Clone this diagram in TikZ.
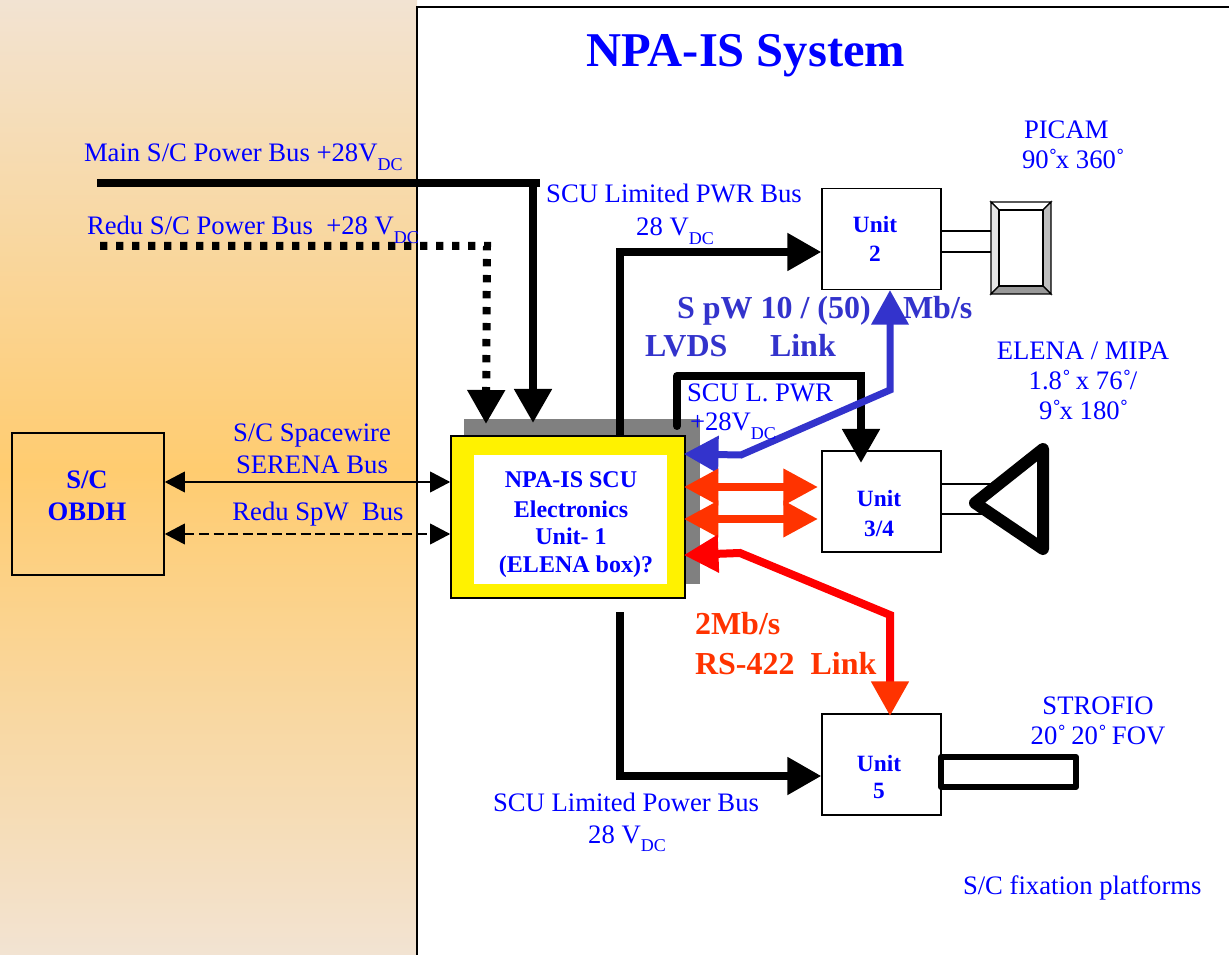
\documentclass[tikz,border=0pt]{standalone}
\usepackage{fontspec}
\setmainfont{Liberation Serif}
\usetikzlibrary{arrows.meta,calc}
\definecolor{scublue}{HTML}{0000FF}
\definecolor{linkblue}{HTML}{3333CC}
\definecolor{linkorange}{HTML}{FF3300}
\definecolor{bgend}{HTML}{F2E3D2}
\definecolor{bgmid}{HTML}{FFCC70}
\newcommand{\dcsub}{\raisebox{-0.32em}{\fontsize{13.5pt}{14pt}\selectfont DC}}
\newcommand{\degr}{˚\kern-.06em}
\tikzset{
  x=0.75pt,y=-0.75pt,
  lbl/.style={inner sep=0pt,outer sep=0pt,text=scublue,anchor=base,font=\fontsize{20pt}{24pt}\selectfont},
  lblw/.style={lbl,anchor=base west},
  unitlbl/.style={lbl,font=\fontsize{17.5pt}{21pt}\selectfont\bfseries},
  scutext/.style={lbl,font=\fontsize{18pt}{21pt}\selectfont\bfseries},
  obdhlbl/.style={lbl,font=\fontsize{20pt}{24pt}\selectfont\bfseries},
  linkb/.style={lblw,text=linkblue,font=\fontsize{24pt}{28pt}\selectfont\bfseries},
  linkr/.style={lblw,text=linkorange,font=\fontsize{24pt}{28pt}\selectfont\bfseries},
  unitbox/.style={draw=black,line width=1.2pt,fill=white,minimum width=89pt,minimum height=75.5pt,inner sep=0pt},
  bighead/.style={-{Triangle[length=25.5pt,width=27pt,color=#1]}},
  power/.style={draw=black,line width=6pt},
  thinbus/.style={draw=black,line width=1.1pt,{Triangle[length=15pt,width=15.5pt]}-{Triangle[length=15pt,width=15.5pt]}},
  stub/.style={draw=black,line width=1pt},
  dblhead/.style={{Triangle[length=26pt,width=26pt,color=#1]}-{Triangle[length=26pt,width=26pt,color=#1]}}
}
\begin{document}
\begin{tikzpicture}
\useasboundingbox (0,0) rectangle (1229,955);
% background
\shade[top color=bgend,bottom color=bgmid,draw=none] (0,0) rectangle (417,470);
\shade[top color=bgmid,bottom color=bgend,draw=none] (0,470) rectangle (417,955);
\draw[line width=.8pt,black] (1229,7) -- (417,7) -- (417,955);

% free ends and waypoints
\coordinate (mainstart) at (97,183);
\coordinate (mainend) at (540,183);
\coordinate (maindrop) at (533,183);
\coordinate (maintip) at (533,423);
\coordinate (redustart) at (100,246);
\coordinate (redubend) at (487,246);
\coordinate (redutip) at (486,424);
\coordinate (pwrbend) at (620,252);
\coordinate (pwrlow) at (620,776);
\coordinate (pwrlowstart) at (620,612);
\coordinate (lpwrstart) at (677,426);
\coordinate (lpwrtop) at (677,376);
\coordinate (lpwrright) at (861,376);
\coordinate (lpwrtip) at (861,463);
\coordinate (bl1) at (741,455);
\coordinate (bl2) at (890,390);
\coordinate (bltip) at (890,290);
\coordinate (rl1) at (740,553);
\coordinate (rl2) at (890,615);
\coordinate (rltip) at (890,716);
\coordinate (yA) at (0,482);
\coordinate (yB) at (0,534);
\coordinate (yC) at (0,487);
\coordinate (yD) at (0,519);
\coordinate (yE) at (0,454);
\coordinate (yF) at (0,555);

% SCU box with shadow
\fill[black!50] (464,419) rectangle (700,584);
\node[draw=black,line width=1.2pt,fill=yellow,minimum width=175.5pt,minimum height=121.5pt,inner sep=0pt] (scu) at (568,517) {};
\node[fill=white,minimum width=144.75pt,minimum height=96.75pt,inner sep=0pt] (scuin) at (570.5,519.5) {};
\node[scutext] (s1) at (571,488) {NPA-IS SCU};
\node[scutext] (s2) at (571,518) {Electronics};
\node[scutext] (s3) at (571,545) {Unit- 1};
\node[scutext] (s4) at (576,572) {(ELENA box)?};

% OBDH and units
\node[draw=black,line width=1.2pt,fill=none,minimum width=114pt,minimum height=106.5pt,inner sep=0pt] (obdh) at (88,504) {};
\node[obdhlbl] (o1) at (87,489) {S/C};
\node[obdhlbl] (o2) at (87,521) {OBDH};
\node[unitbox] (unit2) at (881.5,239) {};
\node[unitbox] (unit34) at (881.5,501.5) {};
\node[unitbox] (unit5) at (881.5,764.5) {};
\node[unitlbl] (u2a) at (875,233) {Unit};
\node[unitlbl] (u2b) at (875,262) {2};
\node[unitlbl] (u3a) at (879,507) {Unit};
\node[unitlbl] (u3b) at (879,537) {3/4};
\node[unitlbl] (u5a) at (879,771) {Unit};
\node[unitlbl] (u5b) at (879,798) {5};

% link text under arrows
\node[linkb] (sp) at (677,319) {S pW 10 / (50)};
\node[linkb] (mb) at (903,319) {Mb/s};
\node[linkb] (lv) at (645,357) {LVDS};
\node[linkb] (lk) at (770,357) {Link};
\node[linkr] (r1) at (695,634) {2Mb/s};
\node[linkr] (r2) at (695,674) {RS-422\ \ Link};

% power lines
\draw[power] (mainstart) -- (mainend);
\draw[power,bighead=black] (maindrop) -- (maintip);
\draw[power,dash pattern=on 5.6pt off 6.4pt,bighead=black] (redustart) -- (redubend) -- (redutip);
\draw[power,bighead=black] (scu.north -| pwrbend) -- (pwrbend) -- (unit2.west |- pwrbend);
\draw[power,bighead=black] (pwrlowstart) -- (pwrlow) -- (unit5.west |- pwrlow);
\draw[power,line cap=round] (lpwrstart) -- (lpwrtop);
\draw[power,bighead=black] (lpwrtop) -- (lpwrright) -- (lpwrtip);

% data links
\draw[line width=5.25pt,draw=linkblue,shorten <=-1.5pt,{Triangle[length=26pt,width=27pt,color=linkblue]}-{Triangle[length=26pt,width=27pt,color=linkblue]}]
  (scu.east |- yE) -- (bl1) -- (bl2) -- (bltip);
\draw[line width=6pt,draw=linkorange,shorten <=-1.5pt,shorten >=2.5pt,dblhead=linkorange] (scu.east |- yC) -- (unit34.west |- yC);
\draw[line width=6pt,draw=linkorange,shorten <=-1.5pt,shorten >=2.5pt,dblhead=linkorange] (scu.east |- yD) -- (unit34.west |- yD);
\draw[line width=6pt,draw=red,shorten <=-1.5pt,{Triangle[length=26pt,width=27pt,color=red]}-{Triangle[length=26pt,width=27pt,color=linkorange]}]
  (scu.east |- yF) -- (rl1) -- (rl2) -- (rltip);

% spacewire buses
\draw[thinbus] (obdh.east |- yA) -- (scu.west |- yA);
\draw[thinbus,dash pattern=on 7.5pt off 3.4pt] (obdh.east |- yB) -- (scu.west |- yB);

% PICAM
\coordinate (pc1) at (991,202); \coordinate (pc2) at (1051,202);
\coordinate (pc3) at (1051,294); \coordinate (pc4) at (991,294);
\coordinate (pi1) at (999,210); \coordinate (pi2) at (1043,210);
\coordinate (pi3) at (1043,286); \coordinate (pi4) at (999,286);
\draw[stub,fill=white] (pc1) -- (pc2) -- (pi2) -- (pi1) -- cycle;
\draw[stub,fill=black!10] (pc1) -- (pi1) -- (pi4) -- (pc4) -- cycle;
\draw[stub,fill=black!25] (pc2) -- (pc3) -- (pi3) -- (pi2) -- cycle;
\draw[stub,fill=black!40] (pc4) -- (pi4) -- (pi3) -- (pc3) -- cycle;
\draw[stub,fill=white] (pi1) rectangle (pi3);
\draw[stub] (unit2.east |- 0,231) -- (pc1 |- 0,231);
\draw[stub] (unit2.east |- 0,252) -- (pc1 |- 0,252);

% ELENA triangle
\coordinate (t1) at (975,503); \coordinate (t2) at (1043,449); \coordinate (t3) at (1043,549);
\draw[stub] (unit34.east |- 0,484) -- (995,484);
\draw[stub] (unit34.east |- 0,514) -- (995,514);
\draw[line width=9pt,line join=round,draw=black] (t1) -- (t2) -- (t3) -- cycle;

% STROFIO
\node[draw=black,line width=4.5pt,line join=round,fill=white,minimum width=101.25pt,minimum height=22.5pt,inner sep=0pt] (strofio) at (1008.5,772) {};

% labels
\node[lbl] (title) at (746,67) {\fontsize{36.4pt}{40pt}\selectfont\bfseries NPA-IS System};
\node[lblw] (l1) at (84,162) {Main S/C Power Bus +28V\dcsub};
\node[lblw] (l2) at (87,235) {Redu S/C Power Bus\ \ +28 V\dcsub};
\node[lbl] (l3) at (674,203) {SCU Limited PWR Bus};
\node[lbl] (l4) at (675,236) {28 V\dcsub};
\node[lblw] (l5) at (1024,139) {PICAM};
\node[lblw] (l6) at (1022,169) {90\degr x 360\degr};
\node[lbl] (l7) at (1083,360) {ELENA / MIPA};
\node[lbl] (l8) at (1083,390) {1.8\degr\ x 76\degr/};
\node[lbl] (l9) at (1083,420) {9\degr x 180\degr};
\node[lbl] (l10) at (312,442) {S/C Spacewire};
\node[lbl] (l11) at (312,474) {SERENA Bus};
\node[lbl] (l12) at (318,521) {Redu SpW\ \ Bus};
\node[lblw] (l13) at (687,402) {SCU L. PWR};
\node[lblw] (l14) at (690,431) {+28V\dcsub};
\node[lbl] (l15) at (1098,714) {STROFIO};
\node[lbl] (l16) at (1098,744) {20\degr\ 20\degr\ FOV};
\node[lbl] (l17) at (626,811) {SCU Limited Power Bus};
\node[lbl] (l18) at (627,843) {28 V\dcsub};
\node[lblw] (l19) at (963,894) {S/C fixation platforms};
\end{tikzpicture}
\end{document}
